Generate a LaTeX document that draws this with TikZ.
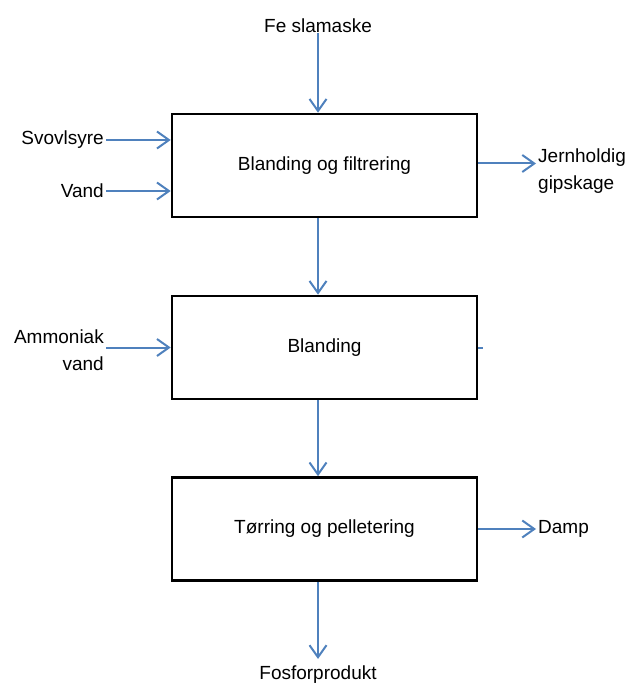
\documentclass[tikz,border=0pt]{standalone}
\usepackage{fontspec}
\setmainfont{Liberation Sans}
\usetikzlibrary{arrows.meta}
\definecolor{flowblue}{HTML}{4F81BD}
\begin{document}
\begin{tikzpicture}[x=1pt,y=-1pt,
  every node/.style={font=\fontsize{19}{27}\selectfont},
  procbox/.style={draw=black,line width=2.6pt,minimum width=305pt,minimum height=103pt,inner sep=0pt},
  lbl/.style={inner sep=2pt,align=center},
  flow/.style={draw=flowblue,line width=2pt,-{Straight Barb[length=12pt,width=17pt,line width=2pt]}},
  flowline/.style={draw=flowblue,line width=2pt}]
  \useasboundingbox (0,0) rectangle (625,684);

  % process boxes
  \node[procbox] (b1) at (324.5,165.5) {Blanding og filtrering};
  \node[procbox] (b2) at (324.5,347.5) {Blanding};
  \node[procbox] (b3) at (324.5,529) {Tørring og pelletering};

  % input and output labels
  \node[lbl] (fe) at (318,26) {Fe slamaske};
  \node[lbl,anchor=east] (sv) at (106,140) {Svovlsyre};
  \node[lbl,anchor=east] (va) at (106,191) {Vand};
  \node[lbl,anchor=east,align=right] (am) at (106,350) {Ammoniak\\vand};
  \node[lbl,anchor=west,align=left] (je) at (536,171) {Jernholdig\\gipskage};
  \node[lbl,anchor=west] (da) at (536,529) {Damp};
  \node[lbl] (fo) at (318,675) {Fosforprodukt};

  % flows (the main column runs down at the x of the top label)
  \draw[flow] ([yshift=2]fe.south) -- (b1.north -| fe);
  \draw[flow] (sv.east) -- (sv.east -| b1.west);
  \draw[flow] (va.east) -- (va.east -| b1.west);
  \draw[flow] ([yshift=2]b1.east) -- ([yshift=2]b1.east -| je.west);
  \draw[flow] (b1.south -| fe) -- (b2.north -| fe);
  \draw[flow] (b2.west -| am.east) -- (b2.west);
  \draw[flowline] (b2.east) -- ++(5,0);
  \draw[flow] (b2.south -| fe) -- (b3.north -| fe);
  \draw[flow] (b3.east) -- (da.west);
  \draw[flow] (b3.south -| fo) -- ([yshift=5]fo.north);
\end{tikzpicture}
\end{document}
